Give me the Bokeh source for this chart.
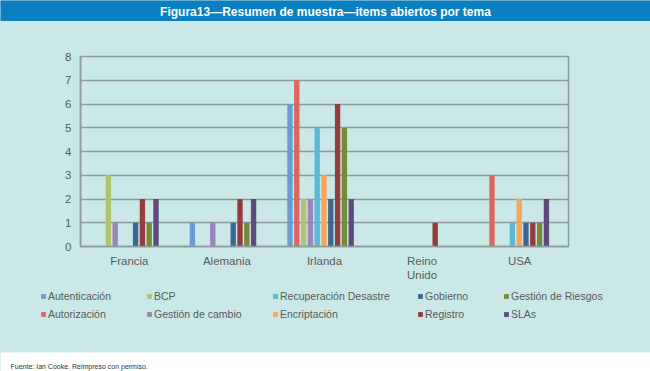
from bokeh.plotting import figure
from bokeh.models import (Legend, LegendItem, FactorRange, Range1d, ColumnDataSource,
                          FixedTicker, Label)
from bokeh.transform import dodge
from bokeh.layouts import column
from bokeh.embed import file_html
from bokeh.resources import INLINE

# ---------------- data ----------------
countries = ["Francia", "Alemania", "Irlanda", "Reino\nUnido", "USA"]
series_names = ["Autenticación", "Autorización", "BCP", "Gestión de cambio",
                "Recuperación Desastre", "Encriptación", "Gobierno", "Registro",
                "Gestión de Riesgos", "SLAs"]
autenticacion = [0, 1, 6, 0, 0]
autorizacion = [0, 0, 7, 0, 3]
bcp = [3, 0, 2, 0, 0]
gestion_cambio = [1, 1, 2, 0, 0]
recuperacion = [0, 0, 5, 0, 1]
encriptacion = [0, 0, 3, 0, 2]
gobierno = [1, 1, 2, 0, 1]
registro = [2, 2, 6, 1, 1]
gestion_riesgos = [1, 1, 5, 0, 1]
slas = [2, 2, 2, 0, 2]
y_ticks = [0, 1, 2, 3, 4, 5, 6, 7, 8]

title_text = "Figura13\u2014Resumen de muestra\u2014items abiertos por tema"
footer_text = "Fuente:  Ian Cooke. Reimpreso con permiso."

# ---------------- styles ----------------
colors = ["#6b9bd1", "#d9675f", "#aec46e", "#9c84bd", "#5ab9d6",
          "#f9a65a", "#3f6591", "#953c3b", "#768a3b", "#604a7b"]
PANEL = "#cbe8e8"
BLUE = "#0a7fc1"
GRID = "#8e9999"
TXT = "#595959"
FONT = "Liberation Sans"
W = 650


def blank(height, fill):
    f = figure(width=W, height=height, x_range=Range1d(0, W), y_range=Range1d(0, height),
               output_backend="svg", toolbar_location=None, title=None,
               x_axis_location=None, y_axis_location=None, min_border=0,
               background_fill_color=fill, border_fill_color=fill,
               outline_line_color=None, frame_align=False)
    f.grid.visible = False
    return f


series_values = [autenticacion, autorizacion, bcp, gestion_cambio, recuperacion,
                 encriptacion, gobierno, registro, gestion_riesgos, slas]
data = {"country": countries}
for i, vals in enumerate(series_values):
    data["s%d" % i] = vals
source = ColumnDataSource(data)

# ---------------- title bar ----------------
t = blank(21, BLUE)
t.add_layout(Label(x=W / 2, y=10, text=title_text, text_align="center",
                   text_baseline="middle", text_color="white", text_font=FONT,
                   text_font_size="12px", text_font_style="bold"))

# ---------------- main chart ----------------
p = figure(x_range=FactorRange(factors=countries), y_range=Range1d(0, 8),
           width=W, height=264, output_backend="svg", toolbar_location=None, title=None,
           min_border_left=80, min_border_right=82, min_border_top=35, min_border_bottom=39,
           background_fill_color=PANEL, border_fill_color=PANEL,
           outline_line_color=GRID, outline_line_width=1.5, frame_align=False)

step = 0.0697
shift = -0.04
for i, color in enumerate(colors):
    p.vbar(x=dodge("country", (i - 4.5) * step + shift, range=p.x_range), top="s%d" % i,
           width=0.055, source=source, fill_color=color, line_color=None)

p.xgrid.grid_line_color = None
p.ygrid.grid_line_color = GRID
p.ygrid.grid_line_width = 1.5
p.yaxis.ticker = FixedTicker(ticks=y_ticks)
for ax in (p.xaxis[0], p.yaxis[0]):
    ax.axis_line_color = GRID
    ax.axis_line_width = 1.5
    ax.major_tick_line_color = None
    ax.minor_tick_line_color = None
    ax.major_tick_out = 0
    ax.major_tick_in = 0
    ax.minor_tick_out = 0
    ax.major_label_text_font = FONT
    ax.major_label_text_font_size = "11.5px"
    ax.major_label_text_color = TXT
p.yaxis.major_label_standoff = 9
p.xaxis.major_label_standoff = 8

# ---------------- legend strip ----------------
lf = blank(67, PANEL)
# legend swatches: zero-size bars (nothing visible on the strip itself)
swatches = [lf.vbar(x="s%d" % i, top="s%d" % i, bottom="s%d" % i, width=0, source=source,
                    fill_color=c, line_color=None) for i, c in enumerate(colors)]
col_x = [40, 146, 272, 417, 503]
for c in range(5):
    items = [LegendItem(label=series_names[2 * c], renderers=[swatches[2 * c]]),
             LegendItem(label=series_names[2 * c + 1], renderers=[swatches[2 * c + 1]])]
    lg = Legend(items=items, location=(col_x[c], 32), orientation="vertical",
                padding=0, margin=0, spacing=5, glyph_width=6, glyph_height=6,
                label_standoff=2, label_height=13, label_text_font=FONT,
                label_text_font_size="10.5px", label_text_color=TXT,
                background_fill_alpha=0, border_line_color=None)
    lf.add_layout(lg)

# ---------------- footer ----------------
f = blank(19, "white")
f.add_layout(Label(x=10, y=5, text=footer_text, text_align="left", text_baseline="middle",
                   text_color="#333333", text_font=FONT, text_font_size="7px"))

layout = column(t, p, lf, f, spacing=0, styles={"background-color": PANEL})
open("out.html", "w").write(file_html(layout, INLINE))
